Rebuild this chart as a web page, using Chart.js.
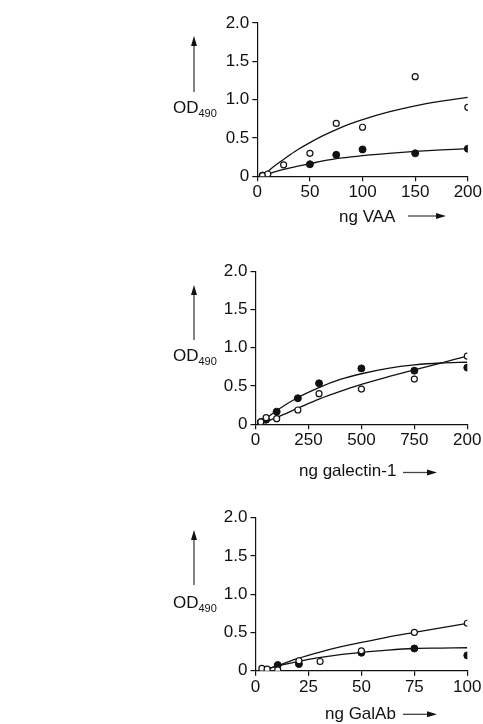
<!DOCTYPE html>
<html>
<head>
<meta charset="utf-8">
<script src="https://cdn.jsdelivr.net/npm/chart.js@4.4.0/dist/chart.umd.min.js"></script>
<style>
  html, body { margin: 0; padding: 0; background: #fff; }
  body { width: 483px; height: 724px; position: relative; overflow: hidden; font-family: "Liberation Sans", Arial, sans-serif; color: #111; }
  canvas { position: absolute; left: 0; }
  .lbl { position: absolute; font-size: 17px; line-height: 17px; white-space: nowrap; }
  .lbl sub { font-size: 11px; vertical-align: -4px; line-height: 0; }
</style>
</head>
<body>
<canvas id="c1" width="483" height="240" style="top:0px;width:483px;height:240px"></canvas>
<canvas id="c2" width="483" height="250" style="top:240px;width:483px;height:250px"></canvas>
<canvas id="c3" width="483" height="234" style="top:490px;width:483px;height:234px"></canvas>

<div class="lbl" style="left:173px;top:99px">OD<sub>490</sub></div>
<div class="lbl" style="left:339px;top:208px">ng VAA</div>
<div class="lbl" style="left:173px;top:347px">OD<sub>490</sub></div>
<div class="lbl" style="left:299px;top:462px">ng galectin-1</div>
<div class="lbl" style="left:173px;top:594px">OD<sub>490</sub></div>
<div class="lbl" style="left:325px;top:705px">ng GalAb</div>

<script>
// ---------- DATA ----------
const yTickValues = [0, 0.5, 1.0, 1.5, 2.0];
const yTickLabels = ['0', '0.5', '1.0', '1.5', '2.0'];

// Panel 1: VAA
const vaaTickValues = [0, 50, 100, 150, 200];
const vaaTickLabels = ['0', '50', '100', '150', '200'];
const vaaOpenX = [5, 10, 25, 50, 75, 100, 150, 200];
const vaaOpenY = [0.01, 0.03, 0.15, 0.30, 0.69, 0.64, 1.30, 0.90];
const vaaFilledX = [5, 50, 75, 100, 150, 200];
const vaaFilledY = [0.01, 0.157, 0.28, 0.35, 0.30, 0.36];
const vaaCurveX = [5, 15, 25, 37.5, 50, 62.5, 75, 87.5, 100, 125, 150, 175, 200];
const vaaOpenCurveY = [0.0, 0.12, 0.22, 0.34, 0.44, 0.53, 0.61, 0.68, 0.74, 0.84, 0.92, 0.98, 1.03];
const vaaFilledCurveY = [0.0, 0.05, 0.09, 0.13, 0.165, 0.20, 0.23, 0.25, 0.27, 0.30, 0.325, 0.345, 0.36];

// Panel 2: galectin-1
const galTickValues = [0, 250, 500, 750, 1000];
const galTickLabels = ['0', '250', '500', '750', '200'];
const galX = [25, 50, 100, 200, 300, 500, 750, 1000];
const galFilledY = [0.03, 0.06, 0.165, 0.34, 0.535, 0.73, 0.70, 0.74];
const galOpenY = [0.03, 0.087, 0.074, 0.187, 0.40, 0.46, 0.59, 0.89];
const galCurveX = [20, 100, 200, 300, 400, 500, 625, 750, 875, 1000];
const galFilledCurveY = [0.01, 0.18, 0.35, 0.48, 0.585, 0.66, 0.73, 0.775, 0.80, 0.81];
const galOpenCurveY = [0.0, 0.09, 0.21, 0.33, 0.43, 0.52, 0.62, 0.71, 0.80, 0.89];

// Panel 3: GalAb
const abTickValues = [0, 25, 50, 75, 100];
const abTickLabels = ['0', '25', '50', '75', '100'];
const abOpenX = [3, 5.5, 10.5, 20.5, 30.5, 50, 75, 100];
const abOpenY = [0.03, 0.02, 0.01, 0.13, 0.12, 0.26, 0.50, 0.62];
const abFilledX = [10.5, 20.5, 50, 75, 100];
const abFilledY = [0.074, 0.087, 0.235, 0.29, 0.20];
const abCurveX = [3, 10, 20, 30, 40, 50, 62.5, 75, 87.5, 100];
const abOpenCurveY = [0.0, 0.06, 0.16, 0.24, 0.31, 0.37, 0.44, 0.50, 0.56, 0.62];
const abFilledCurveY = [0.0, 0.06, 0.12, 0.17, 0.21, 0.24, 0.27, 0.29, 0.295, 0.30];

// ---------- HELPERS ----------
const pts = (xs, ys) => xs.map((x, i) => ({ x: x, y: ys[i] }));
const FONT = { family: '"Liberation Sans", Arial, sans-serif', size: 17 };

const arrowPlugin = {
  id: 'arrows',
  afterDraw(chart, args, opts) {
    const ctx = chart.ctx;
    ctx.save();
    ctx.strokeStyle = '#444';
    ctx.fillStyle = '#111';
    ctx.lineWidth = 1.3;
    const v = opts.v;
    ctx.beginPath(); ctx.moveTo(v.x, v.y1); ctx.lineTo(v.x, v.y0 + 8); ctx.stroke();
    ctx.beginPath(); ctx.moveTo(v.x, v.y0); ctx.lineTo(v.x - 3, v.y0 + 10); ctx.lineTo(v.x + 3, v.y0 + 10); ctx.closePath(); ctx.fill();
    const h = opts.h;
    ctx.beginPath(); ctx.moveTo(h.x0, h.y); ctx.lineTo(h.x1 - 8, h.y); ctx.stroke();
    ctx.beginPath(); ctx.moveTo(h.x1, h.y); ctx.lineTo(h.x1 - 10, h.y - 3); ctx.lineTo(h.x1 - 10, h.y + 3); ctx.closePath(); ctx.fill();
    ctx.restore();
  }
};

function makeChart(id, cfg) {
  const datasets = [
    { data: pts(cfg.curveX, cfg.openCurveY), showLine: true, borderColor: '#111', borderWidth: 1.3, pointRadius: 0, cubicInterpolationMode: 'monotone', fill: false, order: 3 },
    { data: pts(cfg.curveX, cfg.filledCurveY), showLine: true, borderColor: '#111', borderWidth: 1.3, pointRadius: 0, cubicInterpolationMode: 'monotone', fill: false, order: 3 },
    { data: pts(cfg.openX, cfg.openY), showLine: false, pointRadius: 3, pointBorderWidth: 1.2, pointBackgroundColor: '#fff', pointBorderColor: '#111', order: 1 },
    { data: pts(cfg.filledX, cfg.filledY), showLine: false, pointRadius: 3.5, pointBorderWidth: 1, pointBackgroundColor: '#111', pointBorderColor: '#111', order: 2 }
  ];
  return new Chart(document.getElementById(id), {
    type: 'scatter',
    data: { datasets },
    plugins: [arrowPlugin],
    options: {
      responsive: false,
      animation: false,
      events: [],
      layout: { padding: cfg.padding },
      plugins: { legend: { display: false }, tooltip: { enabled: false }, arrows: cfg.arrows },
      scales: {
        x: {
          type: 'linear', min: 0, max: cfg.xTickValues[cfg.xTickValues.length - 1],
          afterBuildTicks: s => { s.ticks = cfg.xTickValues.map(v => ({ value: v })); },
          afterFit: s => { s.height = 30; },
          ticks: { color: '#111', font: FONT, padding: 1, maxRotation: 0, autoSkip: false,
            callback: (v) => cfg.xTickLabels[cfg.xTickValues.indexOf(v)] },
          grid: { display: true, drawOnChartArea: false, drawTicks: true, tickLength: 5, color: '#111', lineWidth: 1.2 },
          border: { display: true, color: '#111', width: 1.2 }
        },
        y: {
          type: 'linear', min: cfg.yMin, max: 2.0,
          afterBuildTicks: s => { s.ticks = yTickValues.map(v => ({ value: v })); },
          afterFit: s => { s.width = 58; },
          ticks: { color: '#111', font: FONT, padding: 3, autoSkip: false,
            callback: (v) => yTickLabels[yTickValues.indexOf(v)] },
          grid: { display: true, drawOnChartArea: false, drawTicks: true, tickLength: 5, color: '#111', lineWidth: 1.2 },
          border: { display: true, color: '#111', width: 1.2 }
        }
      }
    }
  });
}

makeChart('c1', {
  xTickValues: vaaTickValues, xTickLabels: vaaTickLabels,
  openX: vaaOpenX, openY: vaaOpenY, filledX: vaaFilledX, filledY: vaaFilledY,
  curveX: vaaCurveX, openCurveY: vaaOpenCurveY, filledCurveY: vaaFilledCurveY,
  yMin: 0,
  padding: { left: 199.3, right: 14.7, top: 23, bottom: 240 - 176.3 - 30 },
  arrows: { v: { x: 194, y0: 36, y1: 92 }, h: { x0: 408, x1: 446, y: 216 } }
});

makeChart('c2', {
  xTickValues: galTickValues, xTickLabels: galTickLabels,
  openX: galX, openY: galOpenY, filledX: galX, filledY: galFilledY,
  curveX: galCurveX, openCurveY: galOpenCurveY, filledCurveY: galFilledCurveY,
  yMin: 0,
  padding: { left: 197.5, right: 15.7, top: 31.1, bottom: 250 - 184.3 - 30 },
  arrows: { v: { x: 194, y0: 45, y1: 100 }, h: { x0: 403, x1: 437, y: 232.5 } }
});

makeChart('c3', {
  xTickValues: abTickValues, xTickLabels: abTickLabels,
  openX: abOpenX, openY: abOpenY, filledX: abFilledX, filledY: abFilledY,
  curveX: abCurveX, openCurveY: abOpenCurveY, filledCurveY: abFilledCurveY,
  yMin: 0,
  padding: { left: 197.5, right: 15.7, top: 27.7, bottom: 234 - 180.7 - 30 },
  arrows: { v: { x: 194, y0: 40, y1: 95 }, h: { x0: 403, x1: 437, y: 224.3 } }
});
</script>
</body>
</html>
